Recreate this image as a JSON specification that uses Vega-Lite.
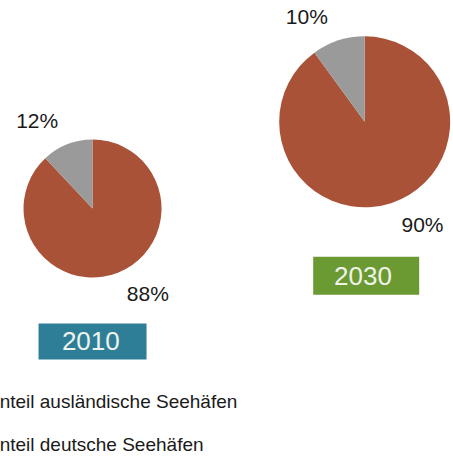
{
  "$schema": "https://vega.github.io/schema/vega-lite/v6.json",
  "width": 453,
  "height": 461,
  "autosize": {"type": "none"},
  "padding": 0,
  "background": "white",
  "config": {"view": {"stroke": null}, "font": "Liberation Sans"},
  "datasets": {
    "shares": [
      {"year": 2010, "category": "Anteil deutsche Seehäfen", "share": 0.88},
      {"year": 2010, "category": "Anteil ausländische Seehäfen", "share": 0.12},
      {"year": 2030, "category": "Anteil deutsche Seehäfen", "share": 0.90},
      {"year": 2030, "category": "Anteil ausländische Seehäfen", "share": 0.10}
    ],
    "years": [{"year": 2010}, {"year": 2030}]
  },
  "data": {"name": "shares"},
  "encoding": {
    "x": {"field": "year", "type": "quantitative", "scale": {"domain": [2003.2, 2036.49], "nice": false, "zero": false}, "axis": null},
    "y": {"field": "year", "type": "quantitative", "scale": {"domain": [1951.76, 2058.1], "nice": false, "zero": false}, "axis": null}
  },
  "layer": [
    {
      "transform": [{"filter": "datum.year == 2010"}],
      "mark": {"type": "arc", "outerRadius": 69},
      "encoding": {
        "theta": {"field": "share", "type": "quantitative", "stack": true, "scale": {"domain": [0, 1]}},
        "order": {"field": "share", "sort": "descending"},
        "color": {
          "field": "category", "type": "nominal",
          "scale": {"domain": ["Anteil ausländische Seehäfen", "Anteil deutsche Seehäfen"], "range": ["#9a9a9a", "#aa5238"]},
          "legend": {"orient": "none", "direction": "vertical", "legendX": -40, "legendY": 392, "title": null, "labelFontSize": 19, "labelColor": "#1a1a1a", "labelFont": "Liberation Sans", "symbolType": "circle", "symbolSize": 150, "labelOffset": 8, "rowPadding": 23, "labelLimit": 0}
        }
      }
    },
    {
      "transform": [{"filter": "datum.year == 2030"}],
      "mark": {"type": "arc", "outerRadius": 85.5},
      "encoding": {
        "theta": {"field": "share", "type": "quantitative", "stack": true, "scale": {"domain": [0, 1]}},
        "order": {"field": "share", "sort": "descending"},
        "color": {"field": "category", "type": "nominal"}
      }
    },
    {
      "transform": [{"filter": "datum.year == 2010"}],
      "mark": {"type": "text", "radius": 102.4, "thetaOffset": -0.194, "fontSize": 21, "color": "#1a1a1a"},
      "encoding": {
        "theta": {"field": "share", "type": "quantitative", "stack": true},
        "order": {"field": "share", "sort": "descending"},
        "detail": {"field": "category"},
        "text": {"field": "share", "type": "quantitative", "format": ".0%"}
      }
    },
    {
      "transform": [{"filter": "datum.year == 2030"}],
      "mark": {"type": "text", "radius": 118.8, "thetaOffset": -0.194, "fontSize": 21, "color": "#1a1a1a"},
      "encoding": {
        "theta": {"field": "share", "type": "quantitative", "stack": true},
        "order": {"field": "share", "sort": "descending"},
        "detail": {"field": "category"},
        "text": {"field": "share", "type": "quantitative", "format": ".0%"}
      }
    },
    {
      "data": {"name": "years"},
      "transform": [{"filter": "datum.year == 2010"}],
      "mark": {"type": "rect", "color": "#2e7e98", "xOffset": -54, "x2Offset": 54, "yOffset": 115, "y2Offset": 151},
      "encoding": {"x2": {"field": "year"}, "y2": {"field": "year"}}
    },
    {
      "data": {"name": "years"},
      "transform": [{"filter": "datum.year == 2030"}],
      "mark": {"type": "rect", "color": "#6b9a32", "xOffset": -51.5, "x2Offset": 54.5, "yOffset": 135, "y2Offset": 173},
      "encoding": {"x2": {"field": "year"}, "y2": {"field": "year"}}
    },
    {
      "data": {"name": "years"},
      "transform": [{"filter": "datum.year == 2010"}],
      "mark": {"type": "text", "fontSize": 26, "color": "#eef3ee", "dx": -1.7, "yOffset": 133},
      "encoding": {"text": {"field": "year", "type": "nominal"}}
    },
    {
      "data": {"name": "years"},
      "transform": [{"filter": "datum.year == 2030"}],
      "mark": {"type": "text", "fontSize": 26, "color": "#eef3ea", "dx": -1.7, "yOffset": 155},
      "encoding": {"text": {"field": "year", "type": "nominal"}}
    }
  ]
}
